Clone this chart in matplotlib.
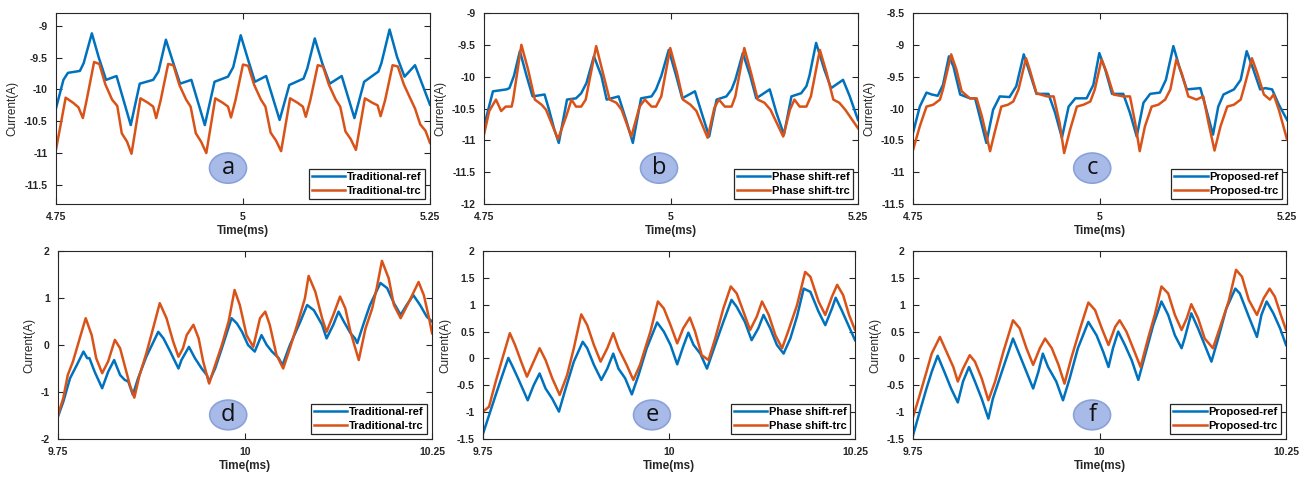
import matplotlib
matplotlib.use('Agg')
import matplotlib.pyplot as plt
from matplotlib.patches import Ellipse
from matplotlib.ticker import FuncFormatter

plt.rcParams['font.family'] = ['Liberation Sans', 'DejaVu Sans']
plt.rcParams['axes.unicode_minus'] = False

BLUE = '#0072BD'
ORANGE = '#D95319'

# ---- (a) traditional, 4.75-5.25 ms ----
a_ref_t = [4.750, 4.760, 4.766, 4.782, 4.787, 4.798, 4.807, 4.817, 4.831, 4.850,
           4.862, 4.880, 4.887, 4.897, 4.907, 4.916, 4.931, 4.949,
           4.962, 4.980, 4.987, 4.997, 5.007, 5.016, 5.031, 5.049,
           5.062, 5.081, 5.086, 5.096, 5.106, 5.116, 5.132, 5.149,
           5.162, 5.181, 5.185, 5.196, 5.206, 5.216, 5.230, 5.250]
a_ref_i = [-10.30, -9.85, -9.74, -9.71, -9.59, -9.12, -9.49, -9.85, -9.79, -10.56,
           -9.91, -9.85, -9.72, -9.22, -9.59, -9.91, -9.85, -10.56,
           -9.88, -9.80, -9.65, -9.15, -9.54, -9.88, -9.79, -10.48,
           -9.93, -9.83, -9.67, -9.20, -9.59, -9.91, -9.79, -10.45,
           -9.88, -9.72, -9.59, -9.06, -9.49, -9.80, -9.62, -10.24]
a_trc_t = [4.750, 4.763, 4.773, 4.780, 4.786, 4.791, 4.801, 4.808, 4.816, 4.825, 4.832, 4.838, 4.845, 4.851,
           4.863, 4.873, 4.880, 4.884, 4.890, 4.900, 4.907, 4.915, 4.924, 4.930, 4.937, 4.944, 4.951,
           4.963, 4.973, 4.980, 4.984, 4.990, 5.000, 5.007, 5.015, 5.024, 5.030, 5.037, 5.044, 5.051,
           5.063, 5.073, 5.080, 5.084, 5.090, 5.100, 5.107, 5.115, 5.124, 5.130, 5.137, 5.144, 5.151,
           5.163, 5.173, 5.180, 5.184, 5.190, 5.200, 5.207, 5.215, 5.224, 5.230, 5.237, 5.244, 5.250]
a_trc_i = [-10.95, -10.13, -10.21, -10.28, -10.45, -10.17, -9.57, -9.60, -9.92, -10.16, -10.26, -10.69, -10.82, -11.01,
           -10.14, -10.21, -10.27, -10.45, -10.17, -9.60, -9.62, -9.93, -10.16, -10.27, -10.69, -10.82, -11.00,
           -10.14, -10.21, -10.27, -10.44, -10.17, -9.61, -9.63, -9.93, -10.16, -10.27, -10.68, -10.80, -10.97,
           -10.14, -10.21, -10.27, -10.43, -10.17, -9.62, -9.64, -9.93, -10.16, -10.27, -10.66, -10.78, -10.95,
           -10.14, -10.21, -10.25, -10.42, -10.17, -9.62, -9.64, -9.92, -10.15, -10.30, -10.55, -10.65, -10.84]

# ---- (b) phase shift, 4.75-5.25 ms ----
b_ref_t = [4.750, 4.762, 4.780, 4.784, 4.790, 4.798, 4.807, 4.815, 4.831, 4.837, 4.844, 4.850,
           4.861, 4.873, 4.880, 4.887, 4.897, 4.907, 4.914, 4.930, 4.940, 4.949,
           4.960, 4.974, 4.980, 4.987, 4.997, 5.007, 5.015, 5.032, 5.041, 5.051,
           5.061, 5.074, 5.081, 5.086, 5.096, 5.106, 5.114, 5.132, 5.141, 5.151,
           5.161, 5.174, 5.181, 5.185, 5.194, 5.205, 5.214, 5.230, 5.239, 5.250]
b_ref_i = [-10.78, -10.23, -10.20, -10.18, -9.99, -9.60, -9.99, -10.31, -10.28, -10.52, -10.83, -11.04,
           -10.36, -10.34, -10.26, -10.10, -9.68, -9.99, -10.36, -10.31, -10.68, -11.04,
           -10.34, -10.31, -10.20, -9.99, -9.58, -9.99, -10.34, -10.23, -10.57, -10.94,
           -10.36, -10.31, -10.20, -10.05, -9.63, -9.99, -10.34, -10.20, -10.57, -10.91,
           -10.31, -10.26, -10.15, -9.99, -9.47, -9.89, -10.18, -10.05, -10.31, -10.68]
b_trc_t = [4.750, 4.757, 4.766, 4.773, 4.779, 4.787, 4.789, 4.800, 4.809, 4.818, 4.827, 4.833, 4.842, 4.849,
           4.860, 4.867, 4.873, 4.880, 4.886, 4.900, 4.909, 4.918, 4.927, 4.934, 4.947,
           4.958, 4.965, 4.974, 4.980, 4.987, 4.999, 5.008, 5.016, 5.026, 5.034, 5.049,
           5.058, 5.064, 5.072, 5.081, 5.086, 5.098, 5.107, 5.116, 5.125, 5.133, 5.150,
           5.159, 5.165, 5.172, 5.181, 5.187, 5.199, 5.208, 5.217, 5.225, 5.233, 5.250]
b_trc_i = [-10.91, -10.54, -10.36, -10.54, -10.47, -10.47, -10.36, -9.50, -9.89, -10.36, -10.44, -10.52, -10.78, -10.98,
           -10.62, -10.36, -10.47, -10.47, -10.36, -9.52, -9.94, -10.36, -10.41, -10.52, -10.94,
           -10.47, -10.36, -10.47, -10.47, -10.31, -9.55, -9.94, -10.36, -10.44, -10.54, -10.96,
           -10.49, -10.36, -10.47, -10.47, -10.31, -9.55, -9.94, -10.36, -10.41, -10.52, -10.94,
           -10.52, -10.36, -10.47, -10.47, -10.31, -9.58, -9.94, -10.36, -10.41, -10.52, -10.81]

# ---- (c) proposed, 4.75-5.25 ms ----
c_ref_t = [4.750, 4.759, 4.768, 4.775, 4.783, 4.790, 4.798, 4.804, 4.813, 4.826, 4.833, 4.839, 4.848,
           4.857, 4.866, 4.879, 4.888, 4.898, 4.906, 4.915, 4.931, 4.940, 4.949,
           4.958, 4.967, 4.982, 4.991, 4.999, 5.007, 5.016, 5.031, 5.040, 5.049,
           5.058, 5.067, 5.080, 5.088, 5.098, 5.107, 5.116, 5.134, 5.141, 5.151,
           5.158, 5.165, 5.179, 5.188, 5.196, 5.205, 5.214, 5.221, 5.230, 5.239, 5.250]
c_ref_i = [-10.38, -9.97, -9.75, -9.78, -9.80, -9.63, -9.18, -9.34, -9.78, -9.84, -9.84, -10.12, -10.54,
           -10.02, -9.81, -9.82, -9.65, -9.15, -9.44, -9.77, -9.77, -10.07, -10.46,
           -9.97, -9.84, -9.84, -9.63, -9.13, -9.39, -9.77, -9.77, -10.07, -10.44,
           -9.91, -9.77, -9.75, -9.55, -9.02, -9.39, -9.70, -9.68, -9.97, -10.41,
           -9.97, -9.78, -9.70, -9.55, -9.10, -9.39, -9.70, -9.68, -9.70, -9.94, -10.18]
c_trc_t = [4.750, 4.759, 4.768, 4.777, 4.786, 4.790, 4.801, 4.808, 4.815, 4.826, 4.835, 4.842, 4.853,
           4.859, 4.868, 4.877, 4.884, 4.891, 4.901, 4.906, 4.915, 4.929, 4.938, 4.946, 4.952,
           4.960, 4.969, 4.978, 4.987, 4.993, 5.002, 5.009, 5.018, 5.031, 5.040, 5.047, 5.053,
           5.060, 5.069, 5.078, 5.087, 5.094, 5.102, 5.109, 5.118, 5.129, 5.138, 5.145, 5.153,
           5.161, 5.170, 5.179, 5.188, 5.193, 5.203, 5.210, 5.219, 5.227, 5.232, 5.239, 5.250]
c_trc_i = [-10.65, -10.28, -9.97, -9.94, -9.86, -9.70, -9.15, -9.39, -9.73, -9.84, -9.84, -10.12, -10.67,
           -10.38, -9.97, -9.94, -9.89, -9.70, -9.21, -9.39, -9.76, -9.81, -9.81, -10.23, -10.70,
           -10.33, -9.97, -9.94, -9.89, -9.70, -9.23, -9.44, -9.78, -9.81, -9.81, -10.23, -10.67,
           -10.28, -9.97, -9.94, -9.86, -9.70, -9.23, -9.44, -9.81, -9.86, -9.81, -10.23, -10.66,
           -10.28, -9.97, -9.94, -9.86, -9.65, -9.21, -9.44, -9.78, -9.86, -9.78, -10.02, -10.49]

# ---- (d) traditional, 9.75-10.25 ms ----
d_ref_t = [9.750, 9.757, 9.766, 9.775, 9.784, 9.789, 9.792, 9.799, 9.809, 9.817, 9.825, 9.833, 9.839, 9.844,
           9.850, 9.857, 9.868, 9.884, 9.891, 9.900, 9.911, 9.915, 9.925, 9.933, 9.942, 9.949, 9.952,
           9.960, 9.969, 9.982, 9.989, 9.996, 10.004, 10.013, 10.022, 10.029, 10.036, 10.045, 10.050,
           10.060, 10.074, 10.083, 10.092, 10.103, 10.109, 10.118, 10.125, 10.132, 10.141, 10.147, 10.150,
           10.158, 10.167, 10.181, 10.190, 10.199, 10.208, 10.216, 10.225, 10.234, 10.243, 10.250]
d_ref_i = [-1.52, -1.21, -0.71, -0.43, -0.14, -0.28, -0.28, -0.57, -0.92, -0.57, -0.32, -0.64, -0.74, -0.78,
           -1.06, -0.71, -0.25, 0.28, 0.14, -0.14, -0.50, -0.32, -0.04, -0.28, -0.50, -0.64, -0.78,
           -0.50, -0.07, 0.57, 0.46, 0.28, 0.00, -0.14, 0.21, 0.00, -0.14, -0.28, -0.43,
           0.00, 0.50, 0.85, 0.74, 0.43, 0.14, 0.43, 0.71, 0.50, 0.25, 0.14, 0.04,
           0.43, 0.85, 1.32, 1.21, 0.89, 0.64, 0.85, 1.06, 0.85, 0.60, 0.50]
d_trc_t = [9.750, 9.757, 9.763, 9.770, 9.779, 9.787, 9.795, 9.801, 9.809, 9.817, 9.826, 9.833, 9.839, 9.846,
           9.852, 9.859, 9.868, 9.877, 9.886, 9.895, 9.904, 9.911, 9.917, 9.922, 9.931, 9.938, 9.944,
           9.952, 9.960, 9.969, 9.978, 9.986, 9.993, 10.002, 10.011, 10.020, 10.027, 10.033, 10.042,
           10.051, 10.060, 10.071, 10.080, 10.085, 10.094, 10.103, 10.109, 10.118, 10.127, 10.134, 10.141,
           10.152, 10.161, 10.170, 10.176, 10.183, 10.192, 10.199, 10.208, 10.217, 10.232, 10.239, 10.246, 10.250]
d_trc_i = [-1.49, -1.13, -0.64, -0.35, 0.14, 0.57, 0.21, -0.28, -0.60, -0.35, 0.11, -0.07, -0.43, -0.85,
           -1.12, -0.64, -0.18, 0.35, 0.89, 0.57, 0.07, -0.25, -0.07, 0.21, 0.43, 0.14, -0.35,
           -0.82, -0.43, 0.00, 0.50, 1.17, 0.85, 0.21, -0.04, 0.57, 0.71, 0.43, -0.21,
           -0.50, -0.07, 0.50, 0.99, 1.47, 1.13, 0.57, 0.28, 0.64, 1.03, 0.78, 0.28,
           -0.32, 0.35, 0.78, 1.21, 1.79, 1.42, 0.85, 0.57, 0.85, 1.34, 1.06, 0.57, 0.25]

# ---- (e) phase shift, 9.75-10.25 ms ----
e_ref_t = [9.750, 9.758, 9.767, 9.776, 9.784, 9.790, 9.797, 9.805, 9.810, 9.818, 9.826, 9.834, 9.843, 9.852,
           9.861, 9.872, 9.884, 9.890, 9.899, 9.909, 9.917, 9.925, 9.932, 9.941, 9.950,
           9.959, 9.970, 9.984, 9.993, 10.002, 10.011, 10.019, 10.026, 10.033, 10.042, 10.051,
           10.062, 10.073, 10.084, 10.091, 10.102, 10.111, 10.120, 10.127, 10.136, 10.145, 10.154,
           10.163, 10.172, 10.181, 10.190, 10.201, 10.210, 10.219, 10.224, 10.232, 10.241, 10.250]
e_ref_i = [-1.40, -1.06, -0.68, -0.31, 0.01, -0.16, -0.37, -0.62, -0.78, -0.50, -0.28, -0.56, -0.75, -0.99,
           -0.56, -0.06, 0.31, 0.19, -0.12, -0.40, -0.19, 0.09, -0.19, -0.37, -0.67,
           -0.31, 0.19, 0.67, 0.50, 0.25, -0.11, 0.22, 0.48, 0.25, 0.09, -0.19,
           0.25, 0.68, 1.09, 0.96, 0.68, 0.34, 0.56, 0.81, 0.56, 0.25, 0.09,
           0.37, 0.78, 1.30, 1.24, 0.87, 0.62, 0.93, 1.13, 0.90, 0.62, 0.34]
e_trc_t = [9.750, 9.758, 9.767, 9.776, 9.786, 9.793, 9.802, 9.809, 9.818, 9.826, 9.834, 9.843, 9.853,
           9.863, 9.872, 9.882, 9.890, 9.899, 9.908, 9.917, 9.925, 9.932, 9.943, 9.952,
           9.961, 9.975, 9.985, 9.993, 10.002, 10.011, 10.019, 10.028, 10.035, 10.044, 10.053,
           10.062, 10.073, 10.083, 10.091, 10.100, 10.109, 10.118, 10.125, 10.134, 10.143, 10.152,
           10.160, 10.172, 10.183, 10.190, 10.201, 10.210, 10.219, 10.226, 10.234, 10.242, 10.250]
e_trc_i = [-0.99, -0.90, -0.43, 0.00, 0.47, 0.25, -0.09, -0.34, -0.06, 0.19, -0.03, -0.37, -0.68,
           -0.31, 0.19, 0.82, 0.62, 0.25, -0.06, 0.19, 0.47, 0.19, -0.12, -0.40,
           -0.12, 0.50, 1.06, 0.93, 0.62, 0.28, 0.56, 0.76, 0.50, 0.06, -0.03,
           0.37, 0.93, 1.34, 1.21, 0.87, 0.53, 0.78, 1.06, 0.81, 0.43, 0.19,
           0.50, 0.99, 1.61, 1.52, 1.06, 0.81, 1.15, 1.37, 1.18, 0.81, 0.53]

# ---- (f) proposed, 9.75-10.25 ms ----
f_ref_t = [9.750, 9.759, 9.768, 9.775, 9.783, 9.792, 9.801, 9.810, 9.817, 9.825, 9.833, 9.842, 9.851,
           9.857, 9.869, 9.884, 9.893, 9.902, 9.911, 9.918, 9.924, 9.931, 9.942, 9.951,
           9.960, 9.971, 9.985, 9.996, 10.005, 10.012, 10.018, 10.025, 10.034, 10.043, 10.052,
           10.061, 10.072, 10.083, 10.092, 10.101, 10.110, 10.114, 10.123, 10.132, 10.141, 10.150,
           10.159, 10.170, 10.182, 10.188, 10.200, 10.211, 10.217, 10.224, 10.233, 10.242, 10.250]
f_ref_i = [-1.43, -0.99, -0.56, -0.25, 0.05, -0.25, -0.56, -0.82, -0.43, -0.16, -0.43, -0.75, -1.12,
           -0.75, -0.25, 0.37, 0.06, -0.25, -0.56, -0.25, 0.09, -0.16, -0.43, -0.78,
           -0.37, 0.19, 0.68, 0.43, 0.12, -0.16, 0.19, 0.50, 0.25, -0.03, -0.40,
           0.06, 0.62, 1.06, 0.81, 0.43, 0.19, 0.37, 0.84, 0.56, 0.25, -0.06,
           0.37, 0.93, 1.30, 1.21, 0.78, 0.40, 0.81, 1.06, 0.84, 0.56, 0.25]
f_trc_t = [9.750, 9.759, 9.768, 9.775, 9.786, 9.795, 9.804, 9.810, 9.817, 9.826, 9.833, 9.842, 9.851,
           9.860, 9.871, 9.884, 9.893, 9.902, 9.911, 9.920, 9.927, 9.936, 9.945, 9.953,
           9.962, 9.974, 9.985, 9.994, 10.003, 10.012, 10.021, 10.027, 10.036, 10.045, 10.055,
           10.065, 10.074, 10.083, 10.092, 10.101, 10.110, 10.117, 10.123, 10.132, 10.141, 10.152,
           10.161, 10.173, 10.183, 10.191, 10.200, 10.211, 10.220, 10.228, 10.235, 10.243, 10.250]
f_trc_i = [-1.09, -0.68, -0.25, 0.09, 0.40, 0.12, -0.16, -0.43, -0.19, 0.06, -0.06, -0.37, -0.78,
           -0.43, 0.12, 0.71, 0.56, 0.19, -0.12, 0.19, 0.37, 0.19, -0.12, -0.47,
           0.00, 0.56, 1.04, 0.90, 0.56, 0.25, 0.59, 0.71, 0.50, 0.19, -0.16,
           0.37, 0.81, 1.34, 1.21, 0.81, 0.53, 0.75, 1.01, 0.75, 0.37, 0.19,
           0.56, 1.06, 1.65, 1.52, 1.09, 0.81, 1.12, 1.30, 1.15, 0.81, 0.53]

top_xticks = [4.75, 5.0, 5.25]
top_xlabels = ['4.75', '5', '5.25']
bot_xticks = [9.75, 10.0, 10.25]
bot_xlabels = ['9.75', '10', '10.25']

trad_names = ['Traditional-ref', 'Traditional-trc']
phase_names = ['Phase shift-ref', 'Phase shift-trc']
prop_names = ['Proposed-ref', 'Proposed-trc']

panels = [
    dict(tag='a', rect=[0.0430, 0.5732, 0.2875, 0.3996], ref=(a_ref_t, a_ref_i), trc=(a_trc_t, a_trc_i),
         names=trad_names, xlim=(4.75, 5.25), xt=top_xticks, xl=top_xlabels,
         ylim=(-11.8, -8.8), yt=[-11.5, -11, -10.5, -10, -9.5, -9], badge=(0.460, 0.188)),
    dict(tag='b', rect=[0.3720, 0.5732, 0.2875, 0.3996], ref=(b_ref_t, b_ref_i), trc=(b_trc_t, b_trc_i),
         names=phase_names, xlim=(4.75, 5.25), xt=top_xticks, xl=top_xlabels,
         ylim=(-12, -9), yt=[-12, -11.5, -11, -10.5, -10, -9.5, -9], badge=(0.468, 0.188)),
    dict(tag='c', rect=[0.7018, 0.5732, 0.2875, 0.3996], ref=(c_ref_t, c_ref_i), trc=(c_trc_t, c_trc_i),
         names=prop_names, xlim=(4.75, 5.25), xt=top_xticks, xl=top_xlabels,
         ylim=(-11.5, -8.5), yt=[-11.5, -11, -10.5, -10, -9.5, -9, -8.5], badge=(0.479, 0.188)),
    dict(tag='d', rect=[0.0446, 0.0816, 0.2875, 0.3933], ref=(d_ref_t, d_ref_i), trc=(d_trc_t, d_trc_i),
         names=trad_names, xlim=(9.75, 10.25), xt=bot_xticks, xl=bot_xlabels,
         ylim=(-2, 2), yt=[-2, -1, 0, 1, 2], badge=(0.455, 0.128)),
    dict(tag='e', rect=[0.3713, 0.0816, 0.2859, 0.3933], ref=(e_ref_t, e_ref_i), trc=(e_trc_t, e_trc_i),
         names=phase_names, xlim=(9.75, 10.25), xt=bot_xticks, xl=bot_xlabels,
         ylim=(-1.5, 2), yt=[-1.5, -1, -0.5, 0, 0.5, 1, 1.5, 2], badge=(0.454, 0.128)),
    dict(tag='f', rect=[0.7018, 0.0816, 0.2867, 0.3933], ref=(f_ref_t, f_ref_i), trc=(f_trc_t, f_trc_i),
         names=prop_names, xlim=(9.75, 10.25), xt=bot_xticks, xl=bot_xlabels,
         ylim=(-1.5, 2), yt=[-1.5, -1, -0.5, 0, 0.5, 1, 1.5, 2], badge=(0.480, 0.128)),
]

fig = plt.figure(figsize=(13.01, 4.78), dpi=100)

for p in panels:
    ax = fig.add_axes(p['rect'])
    ax.plot(p['ref'][0], p['ref'][1], color=BLUE, lw=1.8, label=p['names'][0])
    ax.plot(p['trc'][0], p['trc'][1], color=ORANGE, lw=1.8, label=p['names'][1])
    ax.set_xlim(p['xlim'])
    ax.set_ylim(p['ylim'])
    ax.set_xticks(p['xt'])
    ax.set_xticklabels(p['xl'])
    ax.set_yticks(p['yt'])
    ax.yaxis.set_major_formatter(FuncFormatter(lambda v, pos: '%g' % v))
    ax.tick_params(direction='in', top=True, right=True, length=4, width=0.8,
                   labelsize=7.5, colors='#262626', pad=6)
    for lab in ax.get_xticklabels() + ax.get_yticklabels():
        lab.set_fontweight('bold')
    for s in ax.spines.values():
        s.set_color('#262626')
        s.set_linewidth(0.8)
    ax.set_xlabel('Time(ms)', fontsize=8.5, fontweight='bold', color='#262626', labelpad=2)
    ax.set_ylabel('Current(A)', fontsize=8.5, color='#262626', labelpad=4)
    leg = ax.legend(loc='lower right', fancybox=False, framealpha=1, edgecolor='#262626',
                    handlelength=3.0, handletextpad=0.15, borderpad=0.3, labelspacing=0.3,
                    borderaxespad=0.45, prop={'size': 8, 'weight': 'bold'})
    leg.get_frame().set_linewidth(0.9)
    bx, by = p['badge']
    ax.add_patch(Ellipse((bx, by), 0.099, 0.158, transform=ax.transAxes,
                         facecolor='#A8BAE7', edgecolor='#8AA1DA', lw=1.2, zorder=6))
    ax.text(bx, by, p['tag'], transform=ax.transAxes, ha='center', va='center',
            fontsize=17, family=['Open Sans', 'DejaVu Sans'], color='#111111', zorder=7)

fig.savefig('out.png', dpi=100)
